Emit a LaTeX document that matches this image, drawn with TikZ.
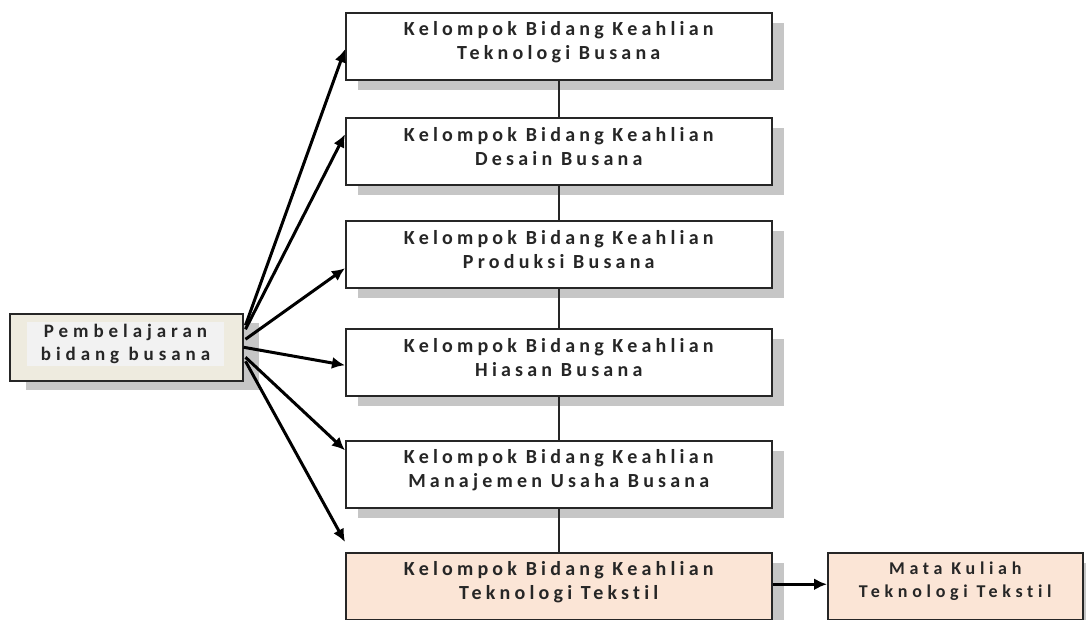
\documentclass[tikz,border=0pt]{standalone}
\usepackage{fontspec}
\setmainfont{Carlito}
\newfontfamily\boxfont{Carlito}[LetterSpace=21,Ligatures=NoCommon]
\newfontfamily\srcfont{Carlito}[LetterSpace=26,Ligatures=NoCommon]
\usetikzlibrary{arrows.meta,shadows,calc}
\definecolor{peach}{HTML}{FBE5D6}
\definecolor{beige}{HTML}{EEEBDF}
\definecolor{txtbg}{HTML}{F2F2F2}
\definecolor{ink}{HTML}{262626}
\begin{document}
\begin{tikzpicture}[x=1pt,y=-1pt,
  box/.style={draw=black!85,line width=1.5pt,fill=white,minimum width=426pt,minimum height=67pt,anchor=north west,inner sep=0pt,
    general shadow={shadow xshift=12pt,shadow yshift=-10pt,fill=gray!45}},
  lbl/.style={font=\boxfont\bfseries\fontsize{20}{24}\selectfont,text=ink,align=center,inner sep=0pt},
  slbl/.style={font=\srcfont\bfseries\fontsize{19}{23}\selectfont,text=ink,align=center,inner sep=0pt},
  mlbl/.style={font=\srcfont\bfseries\fontsize{18}{23}\selectfont,text=ink,align=center,inner sep=0pt},
  fan/.style={line width=3pt,-{Latex[length=13pt,width=12pt]}},
  link/.style={line width=1.8pt,draw=black!85}]
\useasboundingbox (0,0) rectangle (1086,619);
% left box
\node[draw=black!85,line width=1.5pt,fill=beige,minimum width=233pt,minimum height=67pt,anchor=north west,inner sep=0pt,
  general shadow={shadow xshift=16pt,shadow yshift=-9pt,fill=gray!45}] (src) at (9,313) {};
\node[fill=txtbg,minimum width=197pt,minimum height=44pt,inner sep=0pt] (srcbg) at (125.5,343.5) {};
\node[slbl] (srct) at (srcbg) {Pembelajaran\\bidang busana};
% main boxes
\node[box] (b1) at (345,12) {};
\node[box] (b2) at (345,117) {};
\node[box] (b3) at (345,220) {};
\node[box] (b4) at (345,328) {};
\node[box] (b5) at (345,440) {};
\node[box,fill=peach] (b6) at (345,552) {};
\node[draw=black!85,line width=1.5pt,fill=peach,minimum width=255pt,minimum height=67pt,anchor=north west,inner sep=0pt,
  general shadow={shadow xshift=12pt,shadow yshift=-10pt,fill=gray!45}] (mk) at (827,552) {};
\node[lbl] (t1) at ($(b1.north)+(0,30)$) {Kelompok Bidang Keahlian\\Teknologi Busana};
\node[lbl] (t2) at ($(b2.north)+(0,30)$) {Kelompok Bidang Keahlian\\Desain Busana};
\node[lbl] (t3) at ($(b3.north)+(0,30)$) {Kelompok Bidang Keahlian\\Produksi Busana};
\node[lbl] (t4) at ($(b4.north)+(0,30)$) {Kelompok Bidang Keahlian\\Hiasan Busana};
\node[lbl] (t5) at ($(b5.north)+(0,30)$) {Kelompok Bidang Keahlian\\Manajemen Usaha Busana};
\node[lbl] (t6) at ($(b6.north)+(0,30)$) {Kelompok Bidang Keahlian\\Teknologi Tekstil};
\node[mlbl] (t7) at ($(mk.north)+(0,29)$) {Mata Kuliah\\Teknologi Tekstil};
% vertical links
\draw[link] (b1.south) -- (b2.north);
\draw[link] (b2.south) -- (b3.north);
\draw[link] (b3.south) -- (b4.north);
\draw[link] (b4.south) -- (b5.north);
\draw[link] (b5.south) -- (b6.north);
% fan arrows
\coordinate (e6) at ($(b6.north west)+(0,-10)$);
\draw[fan] ($(src.east)+(2,-22)$) -- ($(b1.west)+(0,3)$);
\draw[fan] ($(src.east)+(2,-18)$) -- ($(b2.west)+(0,-17)$);
\draw[fan] ($(src.east)+(2,-8)$) -- ($(b3.west)+(0,14)$);
\draw[fan] ($(src.east)+(0,0)$) -- ($(b4.west)+(0,3)$);
\draw[fan] ($(src.east)+(2,10)$) -- ($(b5.west)+(0,-24)$);
\draw[fan] ($(src.east)+(2,14)$) -- (e6);
\draw[fan] ($(b6.east)+(0,-2)$) -- ($(mk.west)+(0,-2)$);
\end{tikzpicture}
\end{document}
